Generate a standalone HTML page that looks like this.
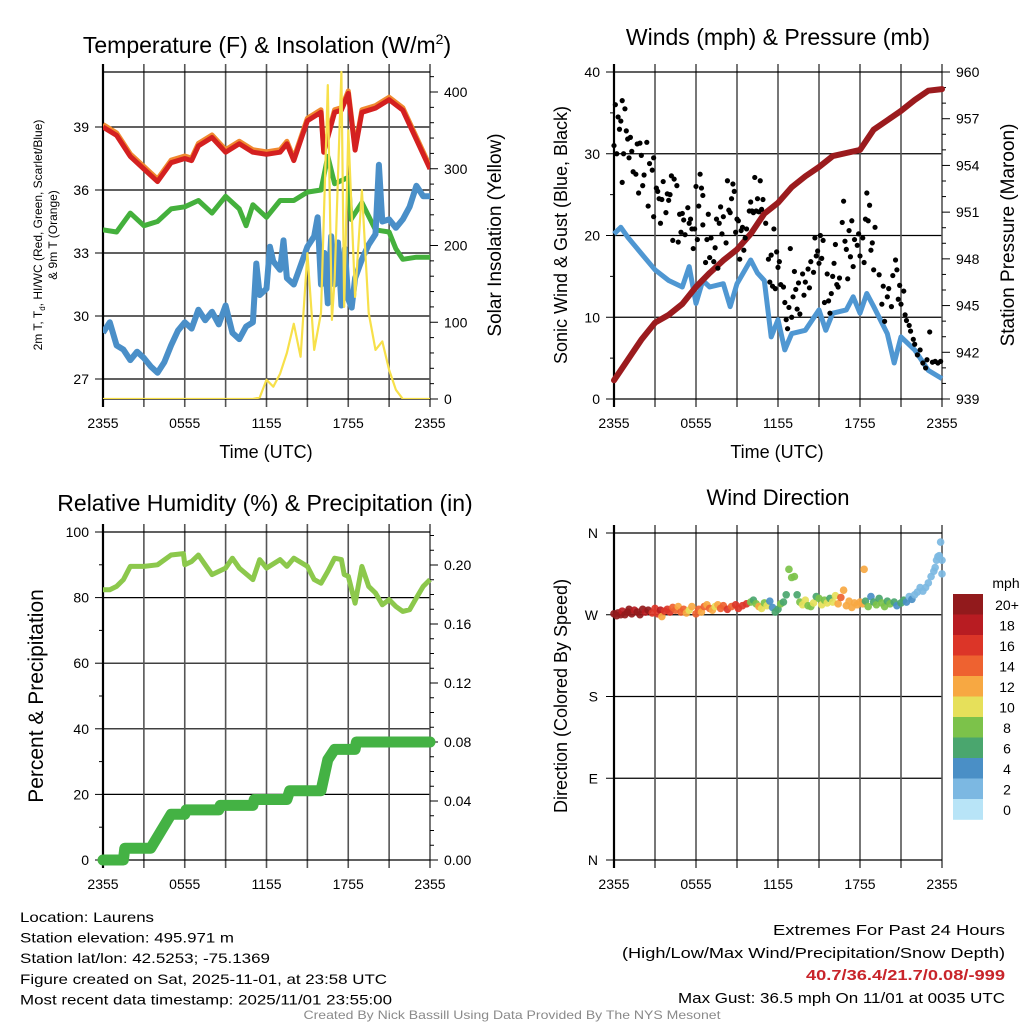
<!DOCTYPE html>
<html><head><meta charset="utf-8"><style>
html,body{margin:0;padding:0;background:#fff}
svg{display:block;font-family:"Liberation Sans",sans-serif}
</style></head><body>
<svg id="c" width="1024" height="1024" viewBox="0 0 1024 1024" xmlns="http://www.w3.org/2000/svg"></svg>
<script>
// ---------- DATA ----------
const tTempHours=[0,1,2,3,4,5,6,6.5,7,8,9,10,11,12,13,13.5,14,15,16,16.2,17,17.5,18,18.5,19,20,21,22,23,24];
const tempF=[39.0,38.6,37.6,37.0,36.4,37.3,37.5,37.4,38.1,38.5,37.8,38.2,37.8,37.7,37.8,38.2,37.4,39.3,39.7,37.8,39.7,39.8,40.6,37.9,39.7,39.9,40.3,39.8,38.4,37.0];
const tDewHours=[0,1,2,3,4,5,6,7,8,9,10,10.5,11,12,13,14,15,16,16.5,17,18,18.2,19,20,21,21.5,22,23,24];
const dewF=[34.1,34.0,34.9,34.3,34.5,35.1,35.2,35.5,34.9,35.7,35.1,34.3,35.3,34.7,35.5,35.5,35.9,36.0,37.6,36.3,36.6,34.6,35.4,34.1,34.0,33.2,32.7,32.8,32.8];
const tChillHours=[0,0.5,1,1.5,2,2.5,3,3.5,4,4.5,5,5.5,6,6.5,7,7.5,8,8.5,9,9.5,10,10.5,11,11.25,11.5,12,12.25,12.5,13,13.25,13.5,14,14.5,15,15.5,15.75,16,16.25,16.5,16.75,17,17.25,17.5,17.75,18,18.25,18.5,19,19.5,20,20.25,20.5,21,21.5,22,22.5,23,23.5,24];
const chillF=[29.2,29.7,28.6,28.4,27.9,28.3,28.0,27.6,27.3,27.8,28.6,29.3,29.7,29.4,30.3,29.8,30.2,29.6,30.5,29.2,28.9,29.5,29.7,32.5,31.0,31.3,33.3,32.6,32.2,33.6,31.8,31.5,32.4,33.3,33.8,34.7,31.5,33.0,30.6,33.8,31.5,33.5,30.5,33.2,30.8,30.4,31.8,32.7,33.4,33.9,37.2,34.5,34.6,34.2,34.6,35.2,36.2,35.7,35.7];
const solarHours=[0,11,11.5,12,12.5,13,13.5,14,14.5,15,15.5,16,16.5,16.8,17,17.5,17.7,18,18.5,19,19.5,20,20.5,21,21.5,22,24];
const solarW=[0,0,2,25,16,33,60,98,55,190,64,112,409,103,155,426,120,350,133,272,112,64,75,38,12,0,0];

const windHours=[0,0.5,1,2,3,4,5,5.5,6,6.5,7,8,8.5,9,10,10.5,11,11.5,12,12.5,13,14,15,15.5,16,17,17.5,18,18.5,19,20,20.5,21,22,23,24];
const windMph=[20.2,21,19.8,17.8,15.8,14.5,13.7,16.2,11.7,14.5,13.7,14.1,11.3,14.1,17,15.4,14.5,7.6,9.7,6,8,8.4,10.9,8.4,10.5,10.9,12.5,10.5,12.9,11.3,8,4.4,7.6,6,3.5,2.5];
const presHours=[0,2,3,4,5,6,7,8,9,10,11,12,13,14,15,16,17,18,19,20,21,22,23,24];
const presMb=[940.2,942.8,943.9,944.4,945.1,946.2,947.1,947.9,948.6,949.6,950.9,951.6,952.6,953.3,953.9,954.6,954.8,955,956.3,956.9,957.5,958.2,958.8,958.9];
const gustHours=[0,0.1,0.2,0.3,0.4,0.5,0.6,0.6,0.7,0.8,0.9,1,1.1,1.2,1.3,1.4,1.6,1.7,1.8,1.9,2.0,2.1,2.2,2.4,2.5,2.6,2.8,2.9,2.9,3.1,3.2,3.3,3.4,3.5,3.6,3.8,3.9,4.0,4.1,4.2,4.3,4.4,4.6,4.7,4.8,4.9,5.0,5.1,5.2,5.4,5.5,5.6,5.7,5.8,5.9,6.0,6.1,6.2,6.3,6.4,6.5,6.5,6.7,6.8,6.9,7.0,7.1,7.3,7.4,7.5,7.6,7.7,7.8,7.9,8.0,8.2,8.3,8.4,8.5,8.6,8.7,8.8,8.9,9.0,9.1,9.2,9.3,9.4,9.5,9.6,9.7,9.9,10.0,10.1,10.2,10.3,10.4,10.5,10.6,10.7,10.8,10.9,11.1,11.3,11.4,11.5,11.6,11.7,11.8,11.9,12,12.1,12.2,12.4,12.5,12.6,12.7,12.8,12.9,13.0,13.1,13.2,13.3,13.4,13.5,13.6,13.8,13.9,14.0,14.2,14.3,14.4,14.6,14.7,14.8,14.9,15.0,15.1,15.2,15.3,15.4,15.6,15.7,15.8,15.9,16.0,16.1,16.2,16.3,16.4,16.5,16.7,16.8,16.9,17.0,17.1,17.2,17.3,17.4,17.5,17.6,17.8,17.9,18.0,18.2,18.3,18.4,18.5,18.6,18.7,18.8,18.9,19.0,19.1,19.4,19.6,19.7,19.8,20,20.1,20.3,20.4,20.6,20.7,20.8,20.9,21.0,21.2,21.3,21.4,21.6,21.7,21.9,22.0,22.2,22.4,22.6,22.8,22.9,23.1,23.3,23.5,23.7,23.9];
const gustMph=[31,36,30,34.5,33,34,26.5,36.5,30,35.5,32.8,31.8,29.5,32,30.3,27.8,27.5,31.2,25.2,31.3,29.8,26.1,27.4,31.4,23.6,28.8,28,29.5,22.3,25.8,25.4,24.5,21.5,24.4,26.6,22.8,25.1,24.3,25,27.3,19.4,26.9,26.1,19.2,22.6,20.4,22.7,21.9,20.1,23.4,21.5,22,20.8,18.4,20.8,26,19.5,23.6,27.5,25.8,21.3,24.9,16.7,19.5,22.6,17.3,19.7,16.8,18.5,22,16,21.5,23.5,20.2,22.3,19.1,26.7,23.1,22.8,24.5,26.3,25.4,20.4,22,21.8,17.1,20.6,21,18.2,19.7,20.8,23,24.1,23,22.8,27.1,23,24.5,22.9,26.7,23.2,24.4,21.5,17.1,14.3,17.6,13.8,20.8,13.5,18,16.1,16.8,14,13.7,11.8,9.7,8.6,11.2,18.4,10,12.5,15.6,13.4,11,14.2,10.4,15.3,12.7,14.3,15.9,13.6,16.8,15.5,19.7,17.5,18.1,16.6,20,17.2,19.4,11.8,15.3,12,10.5,12.9,15,16.6,18.9,14,13.7,14.8,21.6,24.2,19.3,18.3,14.7,20.6,17.4,21.8,16.2,19.5,18.8,20.2,17.5,19.7,16.7,22,25.2,21.8,23.7,18.2,19.1,15.8,21,15.2,11.6,13.8,9.5,12.5,13.5,11.3,15.1,17,15.8,12.2,13.9,11.6,13.2,10.3,9.6,9,8.3,7.3,6.7,5.4,6,4.4,3.8,4.8,8.2,4.5,4.6,4.4,4.6];

const rhHours=[0,0.5,1,1.5,2,3,4,5,5.9,6,6.5,7,7.5,8,9,9.5,10,11,11.5,12,13,13.5,14,15,15.5,16,16.5,17,17.5,17.7,18,18.5,19,19.5,20,20.5,21,21.5,22,22.5,23,23.5,24];
const rhPct=[82.4,82.4,83.4,85.5,89.5,89.5,90,93,93.4,90,91,93,90,87,89,92,89,85.5,91.6,89,91.6,89.5,92,89.5,85.5,84.4,88,92,91.6,87,86.5,78.3,89.5,83.4,81.4,77.8,79.4,77.3,75.8,76.3,79.9,83.4,85.5];
const precipHours=[0,1.5,1.6,3.5,5,6,6.1,8.5,8.6,11,11.1,13.5,13.7,16,16.5,17,18.5,18.6,24];
const precipIn=[0,0,0.008,0.008,0.031,0.031,0.034,0.034,0.037,0.037,0.041,0.041,0.047,0.047,0.068,0.075,0.075,0.08,0.08];

const dirHours=[0.0,0.2,0.3,0.5,0.6,0.8,1.0,1.1,1.3,1.5,1.7,1.9,2.1,2.3,2.5,2.8,3.0,3.2,3.4,3.5,3.7,3.9,4.1,4.3,4.5,4.7,4.9,5.1,5.3,5.5,5.7,6.0,6.2,6.4,6.6,6.8,7.0,7.2,7.4,7.6,7.8,8.0,8.3,8.6,8.9,9.1,9.4,9.7,10.0,10.2,10.4,10.6,10.8,11.0,11.2,11.4,11.6,11.8,12.0,12.2,12.4,12.6,12.8,13.0,13.2,13.4,13.6,13.8,14.0,14.2,14.4,14.6,14.8,15.0,15.2,15.4,15.6,15.8,16.0,16.2,16.4,16.6,16.8,17.0,17.2,17.4,17.6,17.8,18.0,18.2,18.3,18.4,18.6,18.8,19.0,19.2,19.4,19.6,19.8,20.0,20.2,20.5,20.7,21.0,21.2,21.4,21.6,21.8,22.0,22.2,22.4,22.6,22.8,23.0,23.2,23.4,23.5,23.6,23.7,23.8,23.9,24.0,24.0];
const dirDeg=[271,269,272,270,274,270,273,276,271,275,273,270,276,273,275,272,277,271,275,268,274,276,273,278,275,279,273,276,272,275,279,271,276,273,279,281,277,275,279,281,277,280,276,279,281,277,280,282,284,286,282,279,277,283,280,285,278,273,276,282,284,292,320,311,312,292,284,281,286,280,279,283,290,288,281,286,283,288,284,291,282,289,297,280,285,278,283,281,284,282,320,285,279,290,284,281,288,283,279,285,282,284,280,283,286,284,290,287,292,295,300,296,300,305,312,318,322,330,334,335,350,330,315];
const dirSpeed=[21,20,21,20,19,21,20,21,20,19,20,21,20,19,20,17,16,17,18,13,16,17,16,15,14,13,14,15,12,11,12,15,14,13,14,13,14,12,10,12,15,14,16,15,16,17,16,16,9,6,8,12,10,8,10,4,4,6,7,8,6,6,8,8,8,7,8,10,10,9,8,10,6,8,10,8,10,7,10,10,12,14,12,12,12,12,13,12,12,12,12,7,8,4,7,8,6,8,8,7,8,6,4,6,6,4,3,4,3,2,2,2,2,2,2,2,2,2,2,2,2,2,2];
const speedBinLabels=["0","2","4","6","8","10","12","14","16","18","20+"];
const speedColors=["#b8e4f7","#7cb8e2","#4a8fc6","#4aa66e","#7cc24a","#e6e05a","#f7a842","#ee6230","#dc3528","#b81c22","#921a1c"];
const timeLabels=["2355","0555","1155","1755","2355"];

// ---------- HELPERS ----------
const NS="http://www.w3.org/2000/svg";
const svg=document.getElementById('c');
function mk(tag,attrs,parent){const e=document.createElementNS(NS,tag);for(const k in attrs)e.setAttribute(k,attrs[k]);(parent||svg).appendChild(e);return e;}
function txt(x,y,s,size,anchor,parent,extra){const e=mk('text',Object.assign({x:x,y:y,'font-size':size,'text-anchor':anchor||'middle',fill:'#000'},extra||{}),parent);e.textContent=s;return e;}
function lin(d0,d1,p0,p1){return v=>p0+(v-d0)*(p1-p0)/(d1-d0);}
function linePath(xs,ys,fx,fy){return xs.map((h,i)=>(i?'L':'M')+fx(h).toFixed(1)+','+fy(ys[i]).toFixed(1)).join('');}

function frame(g,L,R,T,B,hLines){
  hLines.forEach(y=>mk('line',{x1:L,x2:R,y1:y,y2:y,stroke:'#000','stroke-width':1.2},g));
  const fx=lin(0,24,L,R);
  for(let h=3;h<24;h+=3){mk('line',{x1:fx(h),x2:fx(h),y1:T-8,y2:B+8,stroke:'#555','stroke-width':1.6},g);}
  mk('line',{x1:L,x2:L,y1:T-8,y2:B+8,stroke:'#000','stroke-width':2.2},g);
  mk('line',{x1:R,x2:R,y1:T-8,y2:B+8,stroke:'#555','stroke-width':1.6},g);
  mk('line',{x1:L,x2:R,y1:B,y2:B,stroke:'#000','stroke-width':1.2},g);
  mk('line',{x1:L,x2:R,y1:T,y2:T,stroke:'#000','stroke-width':1.2},g);
  const xl=[0,6,12,18,24];
  xl.forEach((h,i)=>txt(fx(h),B+29,timeLabels[i],14,'middle',g));
  return fx;
}

// ---------- PANEL 1: temperature ----------
(function(){
  const g=mk('g',{});
  
  
  const L=103,R=430,T=72,B=399;
  const fy=lin(39,27,127,379), fs=lin(0,400,399,92);
  const fx=frame(g,L,R,T,B,[fy(27),fy(30),fy(33),fy(36),fy(39)]);
  [27,30,33,36,39].forEach(v=>{mk('line',{x1:L-8,x2:L,y1:fy(v),y2:fy(v),stroke:'#000'},g);txt(L-14,fy(v)+5,String(v),14,'end',g);});
  for(let v=0;v<=420;v+=20){mk('line',{x1:R,x2:R+(v%100?4:8),y1:fs(v),y2:fs(v),stroke:'#000'},g);}
  [0,100,200,300,400].forEach(v=>txt(R+14,fs(v)+5,String(v),14,'start',g));
  const cp=mk('clipPath',{id:'cp1'},g);mk('rect',{x:L,y:T-6,width:R-L,height:B-T+6},cp);
  const pg=mk('g',{'clip-path':'url(#cp1)'},g);
  let p=mk('path',{d:linePath(tTempHours,tempF.map(v=>v+0.12),fx,fy),fill:'none',stroke:'#f08a30','stroke-width':5,'stroke-linejoin':'round'},pg);
  
  p=mk('path',{d:linePath(tTempHours,tempF,fx,fy),fill:'none',stroke:'#d42020','stroke-width':5,'stroke-linejoin':'round'},pg);
  
  p=mk('path',{d:linePath(tDewHours,dewF,fx,fy),fill:'none',stroke:'#44b03c','stroke-width':5,'stroke-linejoin':'round'},pg);
  
  p=mk('path',{d:linePath(tChillHours,chillF,fx,fy),fill:'none',stroke:'#4a8fc8','stroke-width':6,'stroke-linejoin':'round'},pg);
  
  p=mk('path',{d:linePath(solarHours,solarW,fx,fs),fill:'none',stroke:'#f7e04a','stroke-width':2.2,'stroke-linejoin':'round'},pg);
  
  const t=txt(267,53,'Temperature (F) & Insolation (W/m',23,'middle',g);
  const s=mk('tspan',{dy:-9,'font-size':14},t);s.textContent='2';
  const s2=mk('tspan',{dy:9},t);s2.textContent=')';
  
  txt(266,458,'Time (UTC)',18,'middle',g);
  const yl=mk('text',{transform:'translate(42,235) rotate(-90)','font-size':12,'text-anchor':'middle'},g);
  yl.innerHTML='2m T, T<tspan font-size="8" dy="3">d</tspan><tspan dy="-3">, HI/WC (Red, Green, Scarlet/Blue)</tspan>';
  txt(0,0,'& 9m T (Orange)',12,'middle',g,{transform:'translate(57,235) rotate(-90)'});
  txt(0,0,'Solar Insolation (Yellow)',19,'middle',g,{transform:'translate(501,235) rotate(-90)'});
})();

// ---------- PANEL 2: winds ----------
(function(){
  const g=mk('g',{});
  
  
  const L=614,R=942,T=72,B=399;
  const fy=lin(0,40,399,72), fp=lin(939,960,399,72);
  const fx=frame(g,L,R,T,B,[fy(10),fy(20),fy(30)]);
  for(let v=0;v<=40;v+=5){mk('line',{x1:L-(v%10?4:8),x2:L,y1:fy(v),y2:fy(v),stroke:'#000'},g);}
  [0,10,20,30,40].forEach(v=>txt(L-14,fy(v)+5,String(v),14,'end',g));
  for(let v=939;v<=960;v++){mk('line',{x1:R,x2:R+((v-939)%3?4:8),y1:fp(v),y2:fp(v),stroke:'#000'},g);}
  [939,942,945,948,951,954,957,960].forEach(v=>txt(R+14,fp(v)+5,String(v),14,'start',g));
  let p=mk('path',{d:linePath(windHours,windMph,fx,fy),fill:'none',stroke:'#4f97d2','stroke-width':5,'stroke-linejoin':'round'},g);
  
  p=mk('path',{d:linePath(presHours,presMb,fx,fp),fill:'none',stroke:'#9b1b1e','stroke-width':6,'stroke-linejoin':'round','stroke-linecap':'round'},g);
  
  gustHours.forEach((h,i)=>{const c=mk('circle',{cx:fx(h),cy:fy(gustMph[i]),r:2.6,fill:'#000'},g);
    
    });
  txt(778,45,'Winds (mph) & Pressure (mb)',23,'middle',g);
  txt(777,458,'Time (UTC)',18,'middle',g);
  txt(0,0,'Sonic Wind & Gust (Blue, Black)',18,'middle',g,{transform:'translate(567,235) rotate(-90)'});
  txt(0,0,'Station Pressure (Maroon)',19,'middle',g,{transform:'translate(1014,235) rotate(-90)'});
})();

// ---------- PANEL 3: RH ----------
(function(){
  const g=mk('g',{});
  
  
  const L=103,R=430,T=532,B=860;
  const fy=lin(0,100,860,532), fq=lin(0,0.2,860,565);
  const fx=frame(g,L,R,T,B,[fy(20),fy(40),fy(60),fy(80)]);
  for(let v=0;v<=100;v+=10){mk('line',{x1:L-(v%20?4:8),x2:L,y1:fy(v),y2:fy(v),stroke:'#000'},g);}
  [0,20,40,60,80,100].forEach(v=>txt(L-14,fy(v)+5,String(v),14,'end',g));
  for(let i=0;i<=22;i++){const v=i*0.01;mk('line',{x1:R,x2:R+(i%4?4:8),y1:fq(v),y2:fq(v),stroke:'#000'},g);}
  [0,0.04,0.08,0.12,0.16,0.2].forEach(v=>txt(R+14,fq(v)+5,v.toFixed(2),14,'start',g));
  let p=mk('path',{d:linePath(rhHours,rhPct,fx,fy),fill:'none',stroke:'#8cc84c','stroke-width':5,'stroke-linejoin':'round'},g);
  
  p=mk('path',{d:linePath(precipHours,precipIn,fx,fq),fill:'none',stroke:'#44b244','stroke-width':11,'stroke-linejoin':'round','stroke-linecap':'round'},g);
  
  txt(265,511,'Relative Humidity (%) & Precipitation (in)',23,'middle',g);
  txt(0,0,'Percent & Precipitation',21,'middle',g,{transform:'translate(43,696) rotate(-90)'});
})();

// ---------- PANEL 4: wind direction ----------
(function(){
  const g=mk('g',{});
  
  
  const L=614,R=942,T=533,B=860;
  const fy=lin(0,360,860,533);
  const fx=frame(g,L,R,T,B,[fy(90),fy(180),fy(270)]);
  const dl=['N','E','S','W','N'];
  [0,90,180,270,360].forEach((v,i)=>{mk('line',{x1:L-8,x2:L,y1:fy(v),y2:fy(v),stroke:'#000'},g);txt(L-16,fy(v)+5,dl[i],14,'end',g);});
  dirHours.forEach((h,i)=>{const b=Math.max(0,Math.min(10,Math.floor(dirSpeed[i]/2)));
    const c=mk('circle',{cx:fx(h),cy:fy(dirDeg[i]),r:3.8,fill:speedColors[b],'fill-opacity':0.92},g);
    
    });
  txt(778,505,'Wind Direction',22,'middle',g);
  txt(0,0,'Direction (Colored By Speed)',18,'middle',g,{transform:'translate(567,696) rotate(-90)'});
  const lg=mk('g',{},g);
  
  
  txt(1006,588,'mph',14,'middle',lg);
  for(let i=0;i<11;i++){const k=10-i;const y=594+i*20.5;
    const r=mk('rect',{x:953,y:y,width:30,height:20.8,fill:speedColors[k]},lg);
    
    
    txt(1007,y+16,speedBinLabels[k],14,'middle',lg);}
})();

// ---------- FOOTER ----------
(function(){
  const g=mk('g',{});
  
  
  const left=[['Location: Laurens',134],['Station elevation: 495.971 m',214],['Station lat/lon: 42.5253; -75.1369',250],['Figure created on Sat, 2025-11-01, at 23:58 UTC',367],['Most recent data timestamp: 2025/11/01 23:55:00',372]];
  left.forEach((a,i)=>txt(20,922+i*20.6,a[0],14,'start',g,{textLength:a[1],lengthAdjust:'spacingAndGlyphs'}));
  txt(1005,935,'Extremes For Past 24 Hours',15,'end',g,{textLength:232,lengthAdjust:'spacingAndGlyphs'});
  txt(1005,958,'(High/Low/Max Wind/Precipitation/Snow Depth)',15,'end',g,{textLength:383,lengthAdjust:'spacingAndGlyphs'});
  txt(1005,980,'40.7/36.4/21.7/0.08/-999',15,'end',g,{textLength:199,lengthAdjust:'spacingAndGlyphs',fill:'#c8242a','font-weight':'bold'});
  txt(1005,1003,'Max Gust: 36.5 mph On 11/01 at 0035 UTC',15,'end',g,{textLength:327,lengthAdjust:'spacingAndGlyphs'});
  txt(512,1019,'Created By Nick Bassill Using Data Provided By The NYS Mesonet',12,'middle',g,{textLength:417,lengthAdjust:'spacingAndGlyphs',fill:'#8a8a8a'});
})();
</script>
</body></html>
